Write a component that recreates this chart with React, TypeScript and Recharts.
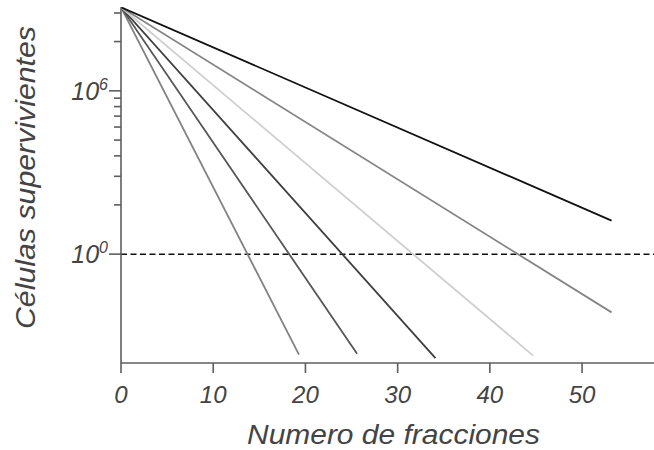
import { LineChart, Line, XAxis, YAxis, ReferenceLine, Label } from 'recharts';

// x = number of fractions, y = surviving cells (stored as log10 exponents)
const START_FRACTION = 0;
const START_EXP = 9.07;
const END_FRACTIONS = [19.3, 25.6, 34.1, 44.7, 53.2, 53.2];
const END_EXPS = [-3.69, -3.66, -3.82, -3.73, -2.14, 1.23];
const LINE_COLORS = ['#828282', '#565656', '#3e3e3e', '#cfcfcf', '#858585', '#111111'];

const X_TICKS = [0, 10, 20, 30, 40, 50];
// y tick positions as exponents (only 10^0 and 10^6 get labels)
const Y_TICK_EXPS = [0, 1.81, 2.86, 3.61, 4.19, 4.67, 5.07, 5.42, 5.73, 6, 7.81, 8.86];
const Y_LABEL_EXPS = [0, 6];

const series = END_FRACTIONS.map((end, i) => ({
  key: `s${i}`,
  color: LINE_COLORS[i],
  data: [
    { x: START_FRACTION, y: Math.pow(10, START_EXP) },
    { x: end, y: Math.pow(10, END_EXPS[i]) },
  ],
}));

const AXIS = '#5e5e5e';
const TEXT = '#444';
const FONT = '"Liberation Sans", Arial, sans-serif';

function YTick({ x, y, payload }: any) {
  const exp = Math.round(Math.log10(payload.value) * 100) / 100;
  const major = Y_LABEL_EXPS.includes(exp);
  const len = major ? 12 : 7;
  return (
    <g>
      <line x1={x - len} x2={x} y1={y} y2={y} stroke={AXIS} strokeWidth={1.6} />
      {major && (
        <text x={x - 13} y={y + 9} textAnchor="end" fill={TEXT} fontSize={25} fontStyle="italic" fontFamily={FONT}>
          10
          <tspan dy={-10} fontSize={16}>{exp}</tspan>
        </text>
      )}
    </g>
  );
}

export default function App() {
  return (
    <div style={{ position: 'absolute', left: 0, top: 0, fontFamily: FONT, fontStyle: 'italic' }}>
      <LineChart width={654} height={450} margin={{ top: 7, right: 0, left: 0, bottom: 0 }}>
        <XAxis
          type="number"
          dataKey="x"
          domain={[0, 57.8]}
          allowDataOverflow
          ticks={X_TICKS}
          interval={0}
          height={87}
          tickSize={10}
          tickMargin={13}
          axisLine={{ stroke: AXIS, strokeWidth: 1.6 }}
          tickLine={{ stroke: AXIS, strokeWidth: 1.6 }}
          tick={{ fill: TEXT, fontSize: 24, fontStyle: 'italic', fontFamily: FONT }}
        >
          <Label
            content={() => (
              <text
                x={247}
                y={444}
                textLength={293}
                lengthAdjust="spacingAndGlyphs"
                fill={TEXT}
                fontSize={27}
                fontStyle="italic"
                fontFamily={FONT}
              >
                Numero de fracciones
              </text>
            )}
          />
        </XAxis>
        <YAxis
          type="number"
          scale="log"
          domain={[1e-4, Math.pow(10, 9.08)]}
          allowDataOverflow
          ticks={Y_TICK_EXPS.map((e) => Math.pow(10, e))}
          interval={0}
          width={121}
          tickSize={0}
          tickMargin={0}
          tickLine={false}
          axisLine={{ stroke: AXIS, strokeWidth: 1.6 }}
          tick={<YTick />}
        >
          <Label
            content={() => (
              <text
                transform="translate(35,329) rotate(-90)"
                textLength={303}
                lengthAdjust="spacingAndGlyphs"
                fill={TEXT}
                fontSize={28}
                fontStyle="italic"
                fontFamily={FONT}
              >
                Células supervivientes
              </text>
            )}
          />
        </YAxis>
        <ReferenceLine y={1} stroke="#111" strokeWidth={1.5} strokeDasharray="6 3.5" />
        {series.map((s) => (
          <Line
            key={s.key}
            data={s.data}
            dataKey="y"
            type="linear"
            stroke={s.color}
            strokeWidth={1.8}
            dot={false}
            isAnimationActive={false}
          />
        ))}
      </LineChart>
    </div>
  );
}
